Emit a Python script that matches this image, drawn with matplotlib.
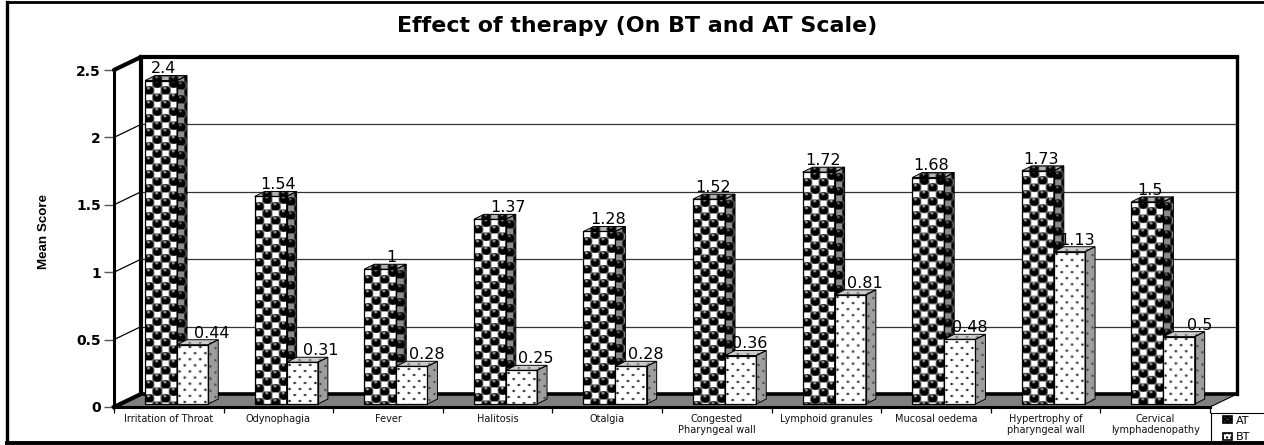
import numpy as np
import matplotlib
matplotlib.use("Agg")
import matplotlib.pyplot as plt
from matplotlib.patches import Polygon, Patch
from matplotlib.lines import Line2D

categories = ["Irritation of Throat", "Odynophagia", "Fever", "Halitosis", "Otalgia",
              "Congested\nPharyngeal wall", "Lymphoid granules", "Mucosal oedema",
              "Hypertrophy of\npharyngeal wall", "Cervical\nlymphadenopathy"]
at_values = [2.4, 1.54, 1, 1.37, 1.28, 1.52, 1.72, 1.68, 1.73, 1.5]
bt_values = [0.44, 0.31, 0.28, 0.25, 0.28, 0.36, 0.81, 0.48, 1.13, 0.5]
y_ticks = [0, 0.5, 1, 1.5, 2, 2.5]
y_tick_labels = ["0", "0.5", "1", "1.5", "2", "2.5"]
series_names = ["AT", "BT"]
title = "Effect of therapy (On BT and AT Scale)"
y_title = "Mean Score"

# horizontal placement of the value labels, in pixels
at_nudge = [3, 7, 11, 18, 9, 4, 4, 3, 3, 3]
bt_nudge = [19, 19, 15, 14, 15, 9, 15, 10, 8, 21]

plt.rcParams["font.family"] = ["DejaVu Sans"]
W, H = 1264, 445
fig = plt.figure(figsize=(W / 100, H / 100), dpi=100, facecolor="white")
L, R, T, B = 114, 1210, 70, 407
ax = fig.add_axes([L / W, 1 - B / H, (R - L) / W, (B - T) / H])
PX = (R - L) / 10
PY = (B - T) / 2.5
DX, DY = 27 / PX, 13 / PY
BX, BY = 10 / PX, 5 / PY


def block(img, s):
    h, w = img.shape
    return img.reshape(h // s, s, w // s, s).mean(axis=(1, 3))


def make_at():
    px, py = 16, 14
    s = 8
    yy, xx = (np.mgrid[0:py * s, 0:px * s] + 0.5) / s
    img = np.full(xx.shape, 0.45)
    for cx, cy in [(4, 3.5), (12, 10.5)]:
        img[(abs(xx - cx) < 3.0) & (abs(yy - cy) < 2.8)] = 1.0
    for cx, cy in [(12, 3.5), (4, 10.5)]:
        d = np.hypot(xx - cx, yy - cy)
        img[d < 4.4] = 0.0
        h = np.hypot(xx - cx + 0.6, yy - cy + 2.4)
        img[(h < 1.4) & (d < 4.4)] = 0.6
    return np.tile(block(img, s), (30, 12))


def make_bt():
    px, py = 10, 12
    s = 8
    yy, xx = (np.mgrid[0:py * s, 0:px * s] + 0.5) / s
    img = np.ones(xx.shape)
    for cx, cy in [(2.5, 3), (7.5, 9)]:
        img[np.hypot(xx - cx, yy - cy) < 1.2] = 0.1
    return np.tile(block(img, s), (40, 20))


AT_TEX = make_at()
BT_TEX = make_bt()


def textured(clip, bbox, tex, low=0.0, high=1.0, z=5):
    x0, x1, y0, y1 = bbox
    nx = max(int(round((x1 - x0) * PX)), 1)
    ny = max(int(round((y1 - y0) * PY)), 1)
    arr = low + (high - low) * tex[:ny, :nx]
    im = ax.imshow(arr, extent=(x0, x1, y0, y1), aspect="auto", cmap="gray", vmin=0, vmax=1,
                   interpolation="bilinear", zorder=z)
    im.set_clip_path(clip)
    return im


def poly(pts, **kw):
    p = Polygon(pts, closed=True, transform=ax.transData, **kw)
    ax.add_patch(p)
    return p


def box(x0, w, v, tex, side_low, side_high, top_low, top_high, z):
    base = 0.022
    top = base + v
    edge = z + 0.05
    front = ax.bar(x0, v, w, bottom=base, align="edge", facecolor="none", edgecolor="black",
                   linewidth=0.9, zorder=edge)[0]
    textured(front, (x0, x0 + w, base, top), tex, z=z)
    side = [(x0 + w, base), (x0 + w + BX, base + BY), (x0 + w + BX, top + BY), (x0 + w, top)]
    sp = poly(side, facecolor="none", edgecolor="black", linewidth=0.7, zorder=edge)
    textured(sp, (x0 + w, x0 + w + BX, base, top + BY), tex, side_low, side_high, z=z)
    tp_pts = [(x0, top), (x0 + w, top), (x0 + w + BX, top + BY), (x0 + BX, top + BY)]
    tp = poly(tp_pts, facecolor="none", edgecolor="black", linewidth=0.7, zorder=edge)
    textured(tp, (x0, x0 + w + BX, top, top + BY), tex, top_low, top_high, z=z)
    return x0 + w / 2, top + BY


# walls, gridlines, floor
for t in y_ticks:
    thick = t == 2.5
    lw = 3 if thick else 0.9
    ax.plot([0, DX], [t, t + DY], color="black", lw=lw, clip_on=False, zorder=2, solid_capstyle="round")
    ax.plot([DX, 10 + DX], [t + DY, t + DY], color="black" if thick else "#333333",
            lw=lw, clip_on=False, zorder=2)
ax.plot([DX, DX], [DY, 2.5 + DY], color="black", lw=3, clip_on=False, zorder=2)
ax.plot([10 + DX, 10 + DX], [DY, 2.5 + DY], color="black", lw=2.4, clip_on=False, zorder=2)
poly([(0, 0), (10, 0), (10 + DX, DY), (DX, DY)], facecolor="#808080", edgecolor="black",
     linewidth=0.8, zorder=3, clip_on=False)
ax.plot([DX, 10 + DX], [DY, DY], color="black", lw=2.6, zorder=3.5, clip_on=False)
ax.plot([0, DX], [0, DY], color="black", lw=3, zorder=3.5, clip_on=False)

# bars
W_AT, W_BT = 0.292, 0.285
OFF = 0.283
for i, (a, b) in enumerate(zip(at_values, bt_values)):
    z = 5 + i
    xa = i + OFF
    cx, ty = box(xa, W_AT, a, AT_TEX, 0.02, 0.55, 0.02, 0.7, z)
    ax.annotate(f"{a:g}", (cx, ty), xytext=(at_nudge[i] * 0.72, 1.5), textcoords="offset points",
                ha="center", va="baseline", fontsize=11.5, zorder=30, annotation_clip=False)
    xb = xa + W_AT
    cx, ty = box(xb, W_BT, b, BT_TEX, 0.25, 0.62, 0.4, 0.8, z + 0.2)
    ax.annotate(f"{b:g}", (cx, ty), xytext=(bt_nudge[i] * 0.72, 1.5), textcoords="offset points",
                ha="center", va="baseline", fontsize=11.5, zorder=30, annotation_clip=False)

ax.set_xlim(0, 10)
ax.set_ylim(0, 2.5)
ax.patch.set_visible(False)
for s in ["top", "right"]:
    ax.spines[s].set_visible(False)
ax.spines["left"].set_linewidth(2.2)
ax.spines["bottom"].set_linewidth(2.2)
ax.spines["left"].set_zorder(4)
ax.spines["bottom"].set_zorder(40)
ax.set_yticks(y_ticks)
ax.set_yticklabels(y_tick_labels, fontweight="bold", fontsize=10)
ax.tick_params(axis="y", length=7, width=1.0, color="#555555", pad=2.5)
ax.set_xticks(np.arange(11))
ax.set_xticklabels([])
ax.tick_params(axis="x", length=4, width=0.9, color="black")
ax.set_xticks(np.arange(10) + 0.5, minor=True)
ax.set_xticklabels(categories, minor=True, fontsize=7, color="#111111", linespacing=1.15)
ax.tick_params(axis="x", which="minor", length=0, pad=5)
ax.set_ylabel(y_title, fontweight="bold", fontsize=9.6, labelpad=0, family="Liberation Sans")
ax.yaxis.set_label_coords((50 - L) / (R - L), (B - 232) / (B - T))

fig.text(637 / W, 1 - 26 / H, title, ha="center", va="center", fontweight="bold", fontsize=15.9)

# chart frame (open on the right, as in the original) and legend box
frame = [(([6.5, 6.5], [1.5, 442]), 2.4), (([6.5, W], [1.5, 1.5]), 2.0), (([6.5, W], [442.5, 442.5]), 2.8),
         (([1210.5, 1210.5], [413, 442]), 0.8), (([1210.5, W], [413, 413]), 0.8)]
for (xs, ys), lw in frame:
    fig.add_artist(Line2D([x / W for x in xs], [1 - y / H for y in ys], color="black", lw=lw))

handles = [Patch(facecolor="#333333", edgecolor="black", hatch="xxxxxx", linewidth=1.2),
           Patch(facecolor="white", edgecolor="black", hatch="....", linewidth=1.2)]
leg = ax.legend(handles, series_names, loc="upper left",
                bbox_to_anchor=(1223 / W, 1 - 415.5 / H), bbox_transform=fig.transFigure,
                fontsize=8, frameon=False, borderpad=0, borderaxespad=0, handlelength=0.85,
                handleheight=0.6, handletextpad=0.3, labelspacing=0.6)
leg.set_zorder(50)
fig.savefig("out.png", dpi=100, facecolor="white")
